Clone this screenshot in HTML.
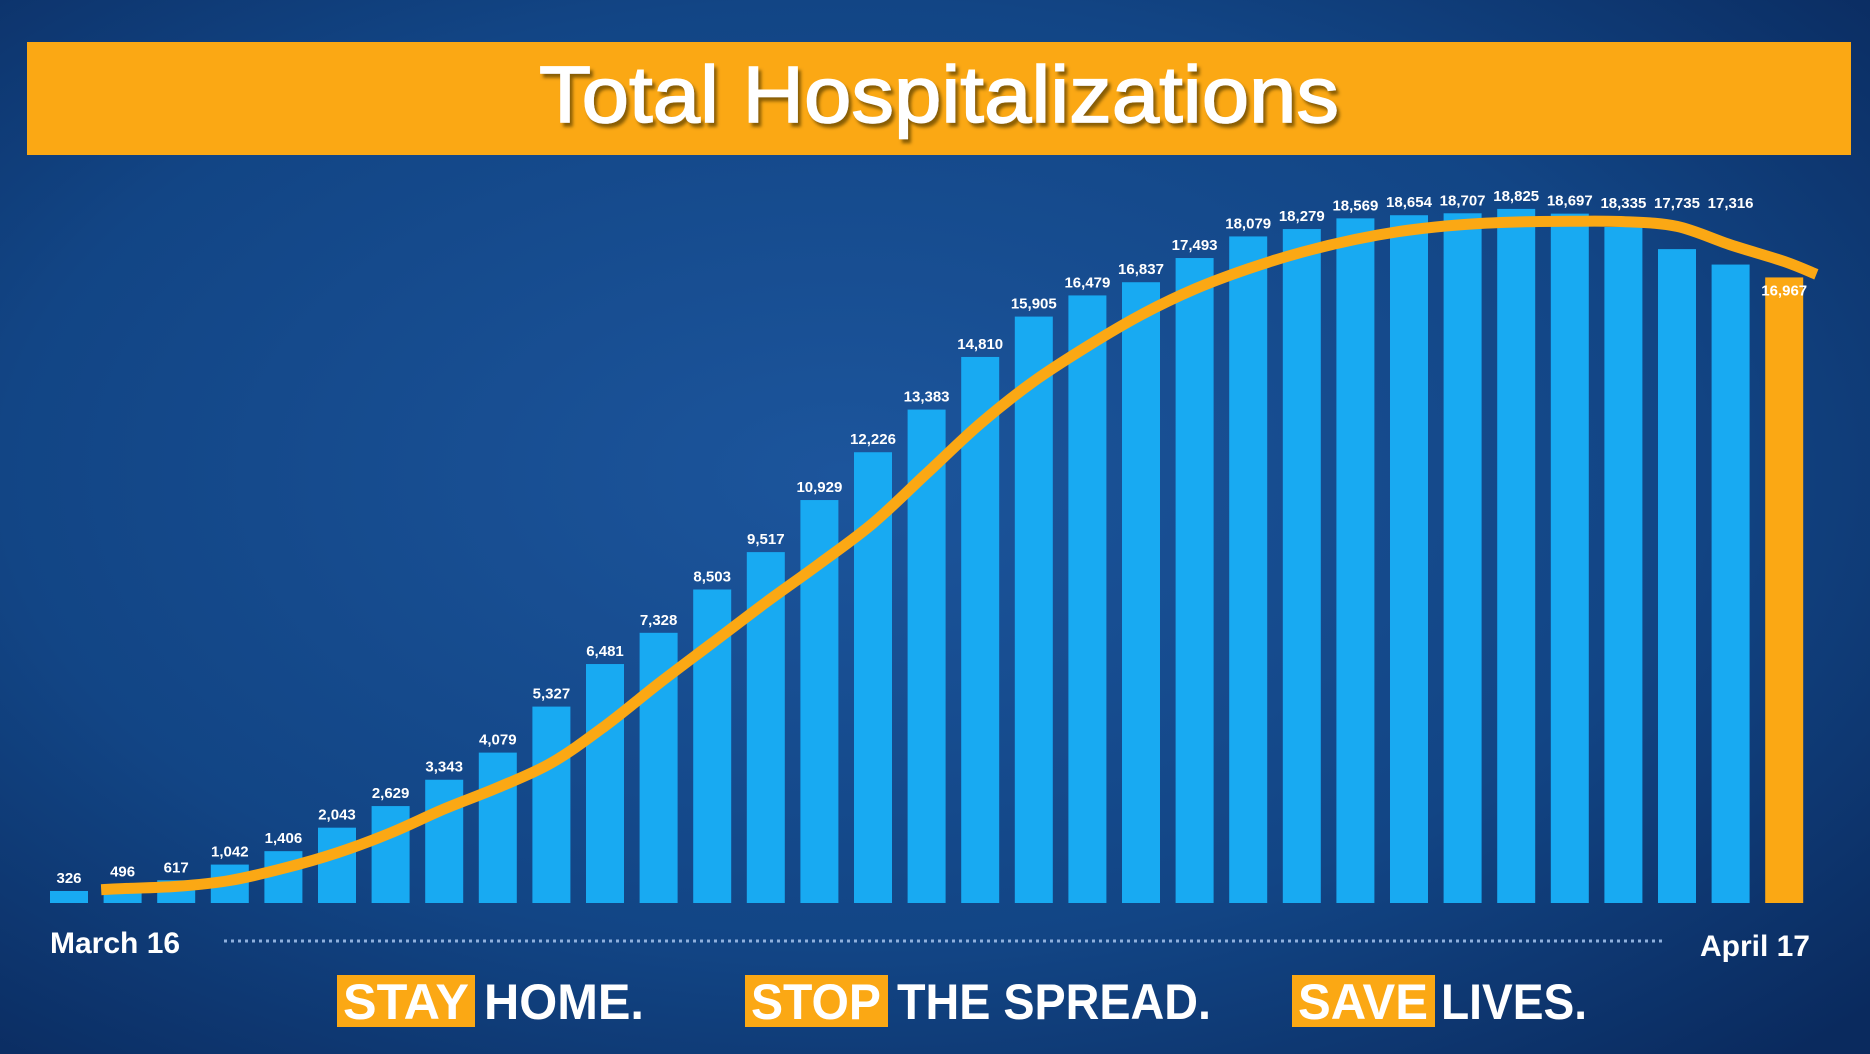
<!DOCTYPE html>
<html><head><meta charset="utf-8"><style>
html,body{margin:0;padding:0;width:1870px;height:1054px;overflow:hidden;background:#0b2f66;}
svg{display:block;font-family:"Liberation Sans",sans-serif;}
</style></head><body>
<svg id="chart" width="1870" height="1054" viewBox="0 0 1870 1054" xmlns="http://www.w3.org/2000/svg">
<defs>
<radialGradient id="bg" cx="0.45" cy="0.45" r="0.75">
<stop offset="0" stop-color="#1c559c"/><stop offset="0.6" stop-color="#124585"/><stop offset="1" stop-color="#0a2a5e"/>
</radialGradient>
<filter id="sh" x="-5%" y="-5%" width="110%" height="120%"><feDropShadow dx="3" dy="4" stdDeviation="1.5" flood-color="#6b4a00" flood-opacity="0.8"/></filter>
</defs>
<rect x="0" y="0" width="1870" height="1054" fill="url(#bg)"/>
<rect x="27" y="42" width="1824" height="113" fill="#fba814"/>
<text x="939" y="122" text-anchor="middle" font-size="80" fill="#fff" stroke="#fff" stroke-width="1.5" filter="url(#sh)" textLength="800" lengthAdjust="spacingAndGlyphs">Total Hospitalizations</text>
<g id="bars"></g>
<g id="labels"></g>
<path id="trend" fill="none" stroke="#fba814" stroke-width="11" stroke-linecap="butt"/>
<text x="50" y="953" font-size="30" font-weight="bold" fill="#fff">March 16</text>
<line x1="224" y1="941" x2="1664" y2="941" stroke="#8fb0dd" stroke-width="3" stroke-dasharray="3,4"/>
<text x="1810" y="956" font-size="30" font-weight="bold" fill="#fff" text-anchor="end">April 17</text>
<g font-size="50" font-weight="bold" fill="#fff">
<rect x="337" y="975" width="138" height="52" fill="#fba814"/>
<text x="406" y="1019" text-anchor="middle" textLength="126" lengthAdjust="spacingAndGlyphs">STAY</text>
<text x="484" y="1019" textLength="160" lengthAdjust="spacingAndGlyphs">HOME.</text>
<rect x="745" y="975" width="143" height="52" fill="#fba814"/>
<text x="816" y="1019" text-anchor="middle" textLength="130" lengthAdjust="spacingAndGlyphs">STOP</text>
<text x="897" y="1019" textLength="314" lengthAdjust="spacingAndGlyphs">THE SPREAD.</text>
<rect x="1292" y="975" width="143" height="52" fill="#fba814"/>
<text x="1363" y="1019" text-anchor="middle" textLength="130" lengthAdjust="spacingAndGlyphs">SAVE</text>
<text x="1441" y="1019" textLength="146" lengthAdjust="spacingAndGlyphs">LIVES.</text>
</g>
</svg>
<script>
const values = [326,496,617,1042,1406,2043,2629,3343,4079,5327,6481,7328,8503,9517,10929,12226,13383,14810,15905,16479,16837,17493,18079,18279,18569,18654,18707,18825,18697,18335,17735,17316,16967];
const valueLabels = ["326","496","617","1,042","1,406","2,043","2,629","3,343","4,079","5,327","6,481","7,328","8,503","9,517","10,929","12,226","13,383","14,810","15,905","16,479","16,837","17,493","18,079","18,279","18,569","18,654","18,707","18,825","18,697","18,335","17,735","17,316","16,967"];
const trendIndex = [0.6,1,2,3,4,5,6,7,8,9,10,11,12,13,14,15,16,17,18,19,20,21,22,23,24,25,26,27,28,29,30,31,32,32.6];
const trendValues = [360,390,450,610,940,1360,1900,2550,3130,3800,4800,5950,7050,8150,9200,10300,11650,13000,14150,15100,15950,16650,17200,17650,18000,18250,18400,18470,18490,18480,18350,17850,17400,17050];
const NS="http://www.w3.org/2000/svg";
const baseY=903, pxPerUnit=0.03687, x0=50, step=53.6, bw=38, labelCeil=208;
function xLeft(i){return x0+step*i;}
function xCenter(i){return x0+step*i+bw/2;}
function yPos(v){return baseY-v*pxPerUnit;}
const peak=values.indexOf(Math.max(...values));
const bars=document.getElementById('bars'), labels=document.getElementById('labels');
values.forEach((v,i)=>{
  const r=document.createElementNS(NS,'rect');
  
  
  r.setAttribute('x',xLeft(i));r.setAttribute('y',yPos(v));
  r.setAttribute('width',bw);r.setAttribute('height',baseY-yPos(v));
  r.setAttribute('fill',i===values.length-1?'#fba814':'#18aaf2');
  bars.appendChild(r);
  const t=document.createElementNS(NS,'text');
  
  
  const last=i===values.length-1;
  let ly=yPos(v)-8;
  if(last) ly=yPos(v)+18;
  else if(i>peak) ly=Math.min(ly,labelCeil);
  t.setAttribute('x',xCenter(i));
  t.setAttribute('y',ly);
  t.setAttribute('text-anchor','middle');
  t.setAttribute('font-size','15');t.setAttribute('font-weight','bold');
  t.setAttribute('fill','#fff');
  t.textContent=valueLabels[i];
  labels.appendChild(t);
});
const pts=trendIndex.map((k,j)=>[xCenter(k),yPos(trendValues[j])]);
let d='M'+pts[0][0]+','+pts[0][1];
for(let j=0;j<pts.length-1;j++){
  const p0=pts[Math.max(0,j-1)],p1=pts[j],p2=pts[j+1],p3=pts[Math.min(pts.length-1,j+2)];
  const c1=[p1[0]+(p2[0]-p0[0])/6,p1[1]+(p2[1]-p0[1])/6];
  const c2=[p2[0]-(p3[0]-p1[0])/6,p2[1]-(p3[1]-p1[1])/6];
  d+=' C'+c1[0]+','+c1[1]+' '+c2[0]+','+c2[1]+' '+p2[0]+','+p2[1];
}
document.getElementById('trend').setAttribute('d',d);
</script>
</body></html>
